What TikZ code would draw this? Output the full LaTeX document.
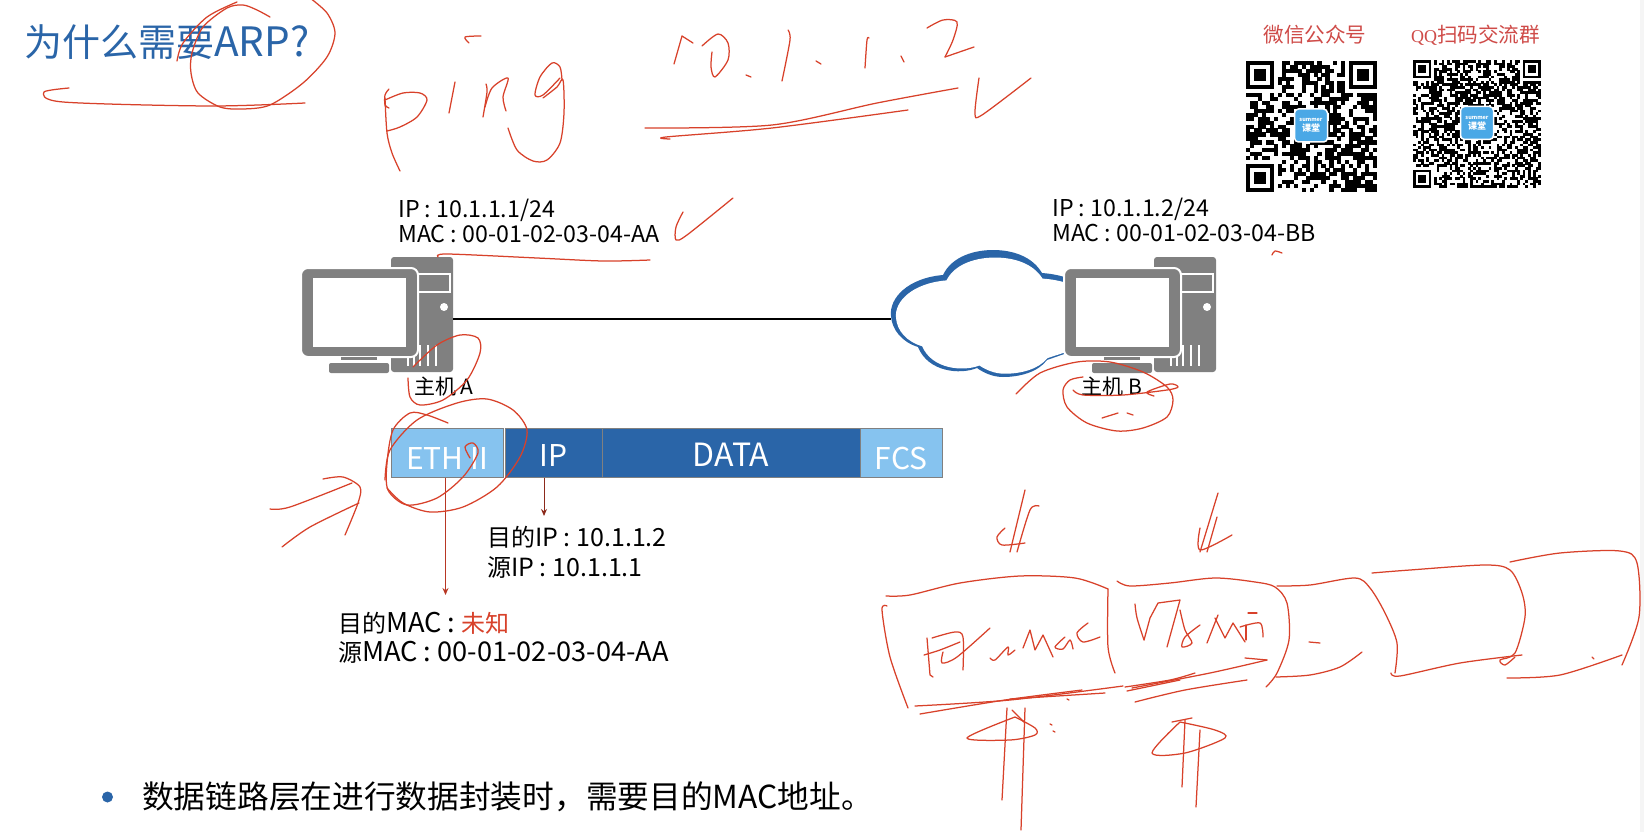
\documentclass[tikz,border=0pt]{standalone}
\usepackage{fontspec}
\setmainfont{Noto Sans CJK SC}
\newfontfamily\qqfont{Liberation Serif}
\usetikzlibrary{arrows.meta,calc}
\definecolor{inkred}{HTML}{D8412A}
\definecolor{slideblue}{HTML}{2A65A8}
\definecolor{lightblue}{HTML}{86C3EF}
\definecolor{pcgray}{HTML}{808080}
\definecolor{qrred}{HTML}{CF4B48}
\definecolor{logoblue}{HTML}{4AA8E6}
\newcommand{\zh}[1]{{\fontsize{24}{29}\selectfont #1}}
\tikzset{
	ink/.style={draw=inkred,line width=1.25pt,line cap=round,line join=round},
	lbl/.style={anchor=west,align=left,inner sep=0pt,font=\fontsize{23.2}{25}\selectfont},
	hostname/.style={inner sep=0pt,font=\fontsize{21}{23}\selectfont},
	seg/.style={draw=pcgray,line width=1pt,minimum height=49pt,inner sep=0pt,text=white,font=\fontsize{30}{32}\selectfont},
	arr/.style={-{Stealth[length=7pt,width=6pt]},line width=1pt},
	qrtitle/.style={inner sep=0pt,text=qrred,font=\fontsize{20.6}{24}\selectfont},
	logobox/.style={draw=white,line width=1.5pt,fill=logoblue,rounded corners=4pt,minimum size=33pt,inner sep=0pt,align=center,text=white,font=\bfseries\fontsize{9}{10}\selectfont},
}
\newcommand{\qrmodules}[4]{%
	\foreach \i in {1,...,#3}{\foreach \j in {1,...,#3}{%
		\pgfmathrandominteger{\qrbit}{0}{99}%
		\ifnum\qrbit<52
			\fill ({#1+(\i-1)*#4},{#2+(\j-1)*#4}) rectangle ({#1+\i*#4+.15},{#2+\j*#4+.15}) ;
		\fi
	}}%
	\foreach \cx/\cy in {0/0,1/0,0/1}{%
		\coordinate (c) at ({#1+\cx*(#3-7)*#4},{#2+\cy*(#3-7)*#4}) ;
		\fill[white] ($(c)+({-#4},{-#4})$) rectangle ++({9*#4},{9*#4}) ;
		\fill (c) rectangle ++({7*#4},{7*#4}) ;
		\fill[white] ($(c)+({#4},{#4})$) rectangle ++({5*#4},{5*#4}) ;
		\fill ($(c)+({2*#4},{2*#4})$) rectangle ++({3*#4},{3*#4}) ;
	}%
}
\begin{document}
\begin{tikzpicture}[x=1pt,y=-1pt]
	\path[use as bounding box,clip] (0,0) rectangle (1644,832) ;
	\fill[white] (0,0) rectangle (1644,832) ;
	\fill[black!4] (1640,0) rectangle (1644,832) ;
	\node[anchor=west,inner sep=0pt,text=slideblue,font=\fontsize{40.5}{42}\selectfont] (title) at (24,42) {{\fontsize{38}{42}\selectfont 为什么需要}ARP?} ;
	\node[qrtitle] (wechat) at (1315,35) {微信公众号} ;
	\node[qrtitle] (qqgroup) at (1475.5,35) {{\fontsize{18}{20}\selectfont\qqfont QQ}扫码交流群} ;
	\pgfmathsetseed{1644}
	\qrmodules{1246}{61}{33}{3.97}
	\qrmodules{1413}{60}{49}{2.61}
	\node[logobox] (logoA) at (1311,125.5) {{\fontsize{5.5}{7}\selectfont summer}\\课堂} ;
	\node[logobox] (logoB) at (1477,123) {{\fontsize{5.5}{7}\selectfont summer}\\课堂} ;
	\node[lbl] (addrA) at (398,220.5) {IP : 10.1.1.1/24\\MAC : 00-01-02-03-04-AA} ;
	\node[lbl] (addrB) at (1052,219.5) {IP : 10.1.1.2/24\\MAC : 00-01-02-03-04-BB} ;
	\coordinate (cloudW) at (891,319) ;
	\def\cloudpath{(891,316) .. controls (889,298) and (908,278) .. (943,275) .. controls (952,256) and (975,250) .. (993,250) .. controls (1012,250) and (1032,256) .. (1042,273) .. controls (1056,274) and (1075,278) .. (1090,290) -- (1090,345) -- (1047,360) .. controls (1038,372) and (1020,377) .. (1003,377) .. controls (993,377) and (984,373) .. (977,368) .. controls (960,375) and (928,372) .. (918,347) .. controls (902,342) and (892,330) .. (891,316) -- cycle}
	\fill[slideblue] \cloudpath ;
	\begin{scope}[shift={(977.5,317)},xscale=.97,yscale=.915,shift={(-975,-315)}]
		\fill[white] \cloudpath ;
	\end{scope}
	\foreach \dx/\n in {0/A,763/B}{
		\begin{scope}[shift={(\dx,0)}]
			\node[fill=pcgray,rounded corners=3pt,minimum width=62pt,minimum height=115pt,inner sep=0pt] (tower\n) at (422,314.5) {} ;
			\draw[white,line width=1.6pt] (415,274) -- (450,274) -- (450,292) -- (415,292) ;
			\fill[white] (444,307) circle (4) ;
			\foreach \vx in {408,414,420,428,436}
				\fill[white] (\vx-1,345) rectangle (\vx+1,366) ;
			\filldraw[fill=pcgray,draw=white,line width=2pt,rounded corners=7pt] (301,268) rectangle (418,357) ;
			\fill[white] (313,278) rectangle (406,347) ;
			\fill[pcgray] (341,357) rectangle (377,360) ;
			\fill[pcgray,rounded corners=2pt] (329,363) rectangle (389,373) ;
		\end{scope}
	}
	\draw[line width=1.2pt] (towerA.east |- cloudW) -- (cloudW) ;
	\node[hostname] (nameA) at (444,387) {主机 A} ;
	\node[hostname] (nameB) at (1112,387) {主机 B} ;
	\node[seg,fill=lightblue,minimum width=112pt] (eth) at (447,452.5) {\raisebox{-16.5pt}[0pt][0pt]{ETH II}} ;
	\node[seg,fill=slideblue,minimum width=97pt] (ip) at (553.5,452.5) {\raisebox{-13.5pt}[0pt][0pt]{IP}} ;
	\node[seg,fill=slideblue,minimum width=258pt] (data) at (731,452.5) {\raisebox{-13.5pt}[0pt][0pt]{\fontsize{32}{34}\selectfont DATA}} ;
	\node[seg,fill=lightblue,minimum width=82pt] (fcs) at (901,452.5) {\raisebox{-16.5pt}[0pt][0pt]{FCS}} ;
	\coordinate (ipend) at (544,516) ;
	\coordinate (ethend) at (445.5,595) ;
	\draw[arr,draw=inkred!85!black,fill=inkred!85!black] (ethend |- eth.south) -- (ethend) ;
	\draw[arr,draw=inkred!65!black,fill=inkred!65!black] (ipend |- ip.south) -- (ipend) ;
	\node[anchor=west,align=left,inner sep=0pt,font=\fontsize{25}{29.5}\selectfont] (ipinfo) at (487,552.5) {\zh{目的}IP : 10.1.1.2\\\zh{源}IP : 10.1.1.1} ;
	\node[anchor=west,align=left,inner sep=0pt,font=\fontsize{27.2}{29.5}\selectfont] (macinfo) at (338,638) {\zh{目的}MAC : {\color{inkred}\zh{未知}}\\\zh{源}MAC : 00-01-02-03-04-AA} ;
	\fill[slideblue] (107.5,797) circle (5.5) ;
	\node[anchor=west,inner sep=0pt,font=\fontsize{31.7}{34}\selectfont] (note) at (142,797) {数据链路层在进行数据封装时，需要目的MAC地址。} ;
	\draw[ink] plot[smooth] coordinates {(69,88) (44,92) (63,102) (210,106) (305,103)} ;
	\draw[ink] plot[smooth] coordinates {(270,17) (257,10) (243,5) (227,8) (203,27) (192,53) (191,73) (198,93) (220,107) (243,109) (270,105) (303,83) (327,57) (335,33) (327,13) (310,-2)} ;
	\draw[ink] plot[smooth] coordinates {(177,61) (183,43) (207,17) (237,2)} ;
	\draw[ink] plot[smooth] coordinates {(389,89) (385,95) (385,105) (389,108)} ;
	\draw[ink] plot[smooth] coordinates {(385,98) (387,133) (392,153) (400,171)} ;
	\draw[ink] plot[smooth] coordinates {(385,100) (403,93) (420,93) (427,100) (417,117) (400,127) (387,131)} ;
	\draw[ink] (455,82) -- (449,113) ;
	\draw[ink] plot[smooth] coordinates {(469,43) (465,37) (481,36)} ;
	\draw[ink] plot[smooth] coordinates {(486,84) (487,92) (483,117)} ;
	\draw[ink] plot[smooth] coordinates {(485,107) (492,88) (508,78) (503,97) (506,111)} ;
	\draw[ink] plot[smooth] coordinates {(562,80) (560,67) (552,63) (540,77) (535,95) (543,95) (560,78)} ;
	\draw[ink] plot[smooth] coordinates {(543,98) (557,87) (563,80) (564,113) (560,143) (547,160) (533,161) (517,150) (508,128)} ;
	\draw[ink] (674,64) -- (682,36) -- (693,43) ;
	\draw[ink] plot[smooth] coordinates {(702,46) (718,34) (728,43) (728,60) (715,77) (711,67) (712,52)} ;
	\draw[ink] (746,75) -- (751,77) (816,61) -- (821,64) (901,56) -- (904,62) ;
	\draw[ink] plot[smooth] coordinates {(788,30) (790,40) (782,81)} ;
	\draw[ink] plot[smooth] coordinates {(869,38) (867,40) (865,68)} ;
	\draw[ink] plot[smooth] coordinates {(927,28) (943,20) (957,22) (953,40) (945,57)} ;
	\draw[ink] (945,57) -- (974,47) ;
	\draw[ink] plot[smooth] coordinates {(645,128) (772,125) (877,103) (958,88)} ;
	\draw[ink] plot[smooth] coordinates {(670,139) (666,137) (772,128) (908,110)} ;
	\draw[ink] plot[smooth] coordinates {(979,78) (975,113) (982,115) (1031,78)} ;
	\draw[ink] plot[smooth] coordinates {(683,212) (676,227) (676,240) (687,235) (733,198)} ;
	\draw[ink] plot[smooth] coordinates {(438,257) (447,254) (537,258) (603,261) (650,260)} ;
	\draw[ink] plot[smooth] coordinates {(413,367) (437,345) (460,335) (478,338) (480,353) (467,380) (443,400) (420,405) (410,397) (408,378)} ;
	\draw[ink] plot[smooth] coordinates {(448,423) (427,415) (410,413) (393,430) (387,463) (388,490) (407,505) (437,498) (463,477) (478,453) (473,443) (465,447) (470,458)} ;
	\draw[ink] plot[smooth] coordinates {(385,480) (390,450) (417,420) (457,403) (487,399) (513,410) (527,430) (520,457) (497,487) (463,507) (430,512) (403,503) (387,488)} ;
	\draw[ink] plot[smooth] coordinates {(270,509) (290,507) (352,483)} ;
	\draw[ink] plot[smooth] coordinates {(323,479) (343,477) (360,487) (358,503) (345,535)} ;
	\draw[ink] plot[smooth] coordinates {(282,547) (310,527) (359,503)} ;
	\draw[ink] plot[smooth] coordinates {(1016,394) (1040,373) (1077,362) (1110,362) (1143,372) (1167,387) (1173,400) (1167,417) (1143,428) (1117,431) (1087,423) (1067,407) (1063,390) (1070,380) (1083,377)} ;
	\draw[ink] plot[smooth] coordinates {(1073,390) (1083,395) (1123,395) (1167,390) (1178,387) (1170,384) (1147,392) (1154,396)} ;
	\draw[ink] (1102,418) -- (1118,413) (1127,413) -- (1133,415) ;
	\draw[ink] plot[smooth] coordinates {(1272,255) (1275,251) (1282,253)} ;
	\draw[ink] (1025,490) -- (1010,552) ;
	\draw[ink] plot[smooth] coordinates {(1039,506) (1030,510) (1017,552)} ;
	\draw[ink] plot[smooth] coordinates {(1005,528) (997,537) (1002,545) (1025,543)} ;
	\draw[ink] (1218,493) -- (1200,552) ;
	\draw[ink] (1217,517) -- (1207,552) ;
	\draw[ink] plot[smooth] coordinates {(1200,528) (1200,550) (1232,535)} ;
	\draw[ink] plot[smooth] coordinates {(886,596) (910,595) (960,583) (1020,576) (1075,578) (1108,589)} ;
	\draw[ink] plot[smooth] coordinates {(1108,589) (1108,647) (1115,673)} ;
	\draw[ink] plot[smooth] coordinates {(887,606) (882,610) (890,657) (908,708)} ;
	\draw[ink] plot[smooth] coordinates {(915,706) (1010,700) (1123,686)} ;
	\draw[ink] plot[smooth] coordinates {(920,714) (1005,700) (1082,690)} ;
	\draw[ink] (1010,699) -- (1105,693) (1067,699) -- (1069,700) ;
	\draw[ink] (927,638) -- (930,675) -- (933,677) ;
	\draw[ink] plot[smooth] coordinates {(932,638) (955,632) (963,637) (963,670)} ;
	\draw[ink] plot[smooth] coordinates {(924,655) (940,650) (960,642)} ;
	\draw[ink] plot[smooth] coordinates {(943,652) (942,663) (957,657) (990,628)} ;
	\draw[ink] plot[smooth] coordinates {(990,658) (995,660) (1008,647) (1008,655) (1015,650)} ;
	\draw[ink] (1023,648) -- (1030,630) -- (1035,650) -- (1043,635) -- (1053,657) ;
	\draw[ink] plot[smooth] coordinates {(1065,637) (1055,647) (1063,649) (1070,640) (1073,649)} ;
	\draw[ink] plot[smooth] coordinates {(1088,623) (1077,633) (1083,642) (1100,637)} ;
	\draw[ink] plot[smooth] coordinates {(1117,581) (1130,586) (1170,583) (1215,578) (1255,582) (1275,587) (1287,603) (1289,640) (1277,673) (1266,687)} ;
	\draw[ink] plot[smooth] coordinates {(1135,604) (1137,618) (1144,640)} ;
	\draw[ink] (1144,640) -- (1150,618) -- (1158,603) -- (1180,600) -- (1167,647) ;
	\draw[ink] plot[smooth] coordinates {(1180,610) (1185,630) (1192,643) (1182,647) (1185,637) (1200,625)} ;
	\draw[ink] (1207,643) -- (1218,615) (1215,618) -- (1225,638) -- (1233,623) -- (1245,642) ;
	\draw[ink] plot[smooth] coordinates {(1240,627) (1260,623) (1263,637)} ;
	\draw[ink] (1246,625) -- (1246,640) (1248,613) -- (1257,613) ;
	\draw[ink] plot[smooth] coordinates {(1125,687) (1170,680) (1195,673)} ;
	\draw[ink] (1127,691) -- (1180,680) ;
	\draw[ink] plot[smooth] coordinates {(1132,688) (1210,673) (1267,660)} ;
	\draw[ink] (1267,660) -- (1245,658) ;
	\draw[ink] plot[smooth] coordinates {(1135,702) (1185,690) (1247,680)} ;
	\draw[ink] plot[smooth] coordinates {(1277,586) (1310,585) (1355,578) (1370,588) (1385,613) (1397,643) (1395,673)} ;
	\draw[ink] (1309,642) -- (1320,643) ;
	\draw[ink] plot[smooth] coordinates {(1276,677) (1310,675) (1340,667) (1362,652)} ;
	\draw[ink] plot[smooth] coordinates {(1372,573) (1410,570) (1485,565) (1510,570) (1522,593) (1525,617) (1515,653) (1500,660) (1505,665) (1515,657)} ;
	\draw[ink] plot[smooth] coordinates {(1391,673) (1400,676) (1460,663) (1522,655)} ;
	\draw[ink] plot[smooth] coordinates {(1510,562) (1560,553) (1620,551) (1637,563) (1639,617) (1622,665)} ;
	\draw[ink] plot[smooth] coordinates {(1507,678) (1560,675) (1622,655)} ;
	\draw[ink] (1592,657) -- (1594,659) ;
	\draw[ink] (1007,708) -- (1002,800) (1025,708) -- (1021,830) (1012,710) -- (1025,723) ;
	\draw[ink] plot[smooth] coordinates {(1015,717) (967,738) (1010,740) (1035,735) (1035,728) (1015,717)} ;
	\draw[ink] (1050,724) -- (1052,725) (1053,731) -- (1055,732) ;
	\draw[ink] (1185,720) -- (1182,787) (1200,730) -- (1196,807) (1172,722) -- (1192,718) ;
	\draw[ink] plot[smooth] coordinates {(1180,722) (1152,753) (1185,753) (1225,738) (1215,730) (1180,722)} ;
\end{tikzpicture}
\end{document}
